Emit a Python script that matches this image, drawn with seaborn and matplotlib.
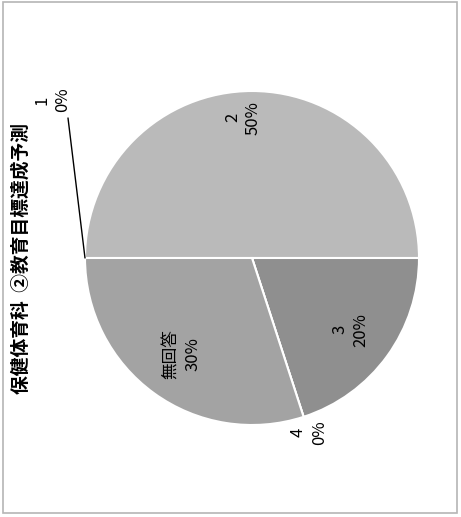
import numpy as np
import matplotlib
matplotlib.use("Agg")
import matplotlib.pyplot as plt
import seaborn as sns
from matplotlib.patches import Rectangle

sns.set_theme(style="white")
plt.rcParams['font.family'] = ['Noto Sans CJK JP', 'DejaVu Sans']

title = "保健体育科  ②教育目標達成予測"
categories = ["1", "2", "3", "4", "無回答"]
values = [0, 50, 20, 0, 30]
pct_labels = ["0%", "50%", "20%", "0%", "30%"]
colors = ["#c4c4c4", "#bababa", "#8f8f8f", "#9a9a9a", "#a3a3a3"]

W, H = 461, 517
fig = plt.figure(figsize=(W / 100, H / 100), dpi=100)
ax = fig.add_axes([0, 0, 1, 1])
cx, cy, R = 252, 259, 167

wedges, _ = ax.pie(values, colors=colors, startangle=180, counterclock=False,
                   center=(cx, cy), radius=R,
                   wedgeprops=dict(edgecolor="white", linewidth=1.5))
ax.set_xlim(0, W)
ax.set_ylim(0, H)
ax.set_aspect("auto")
ax.axis("off")

lab_kw = dict(rotation=90, ha="center", va="center", multialignment="center",
              fontsize=12, linespacing=1.3, color="black")

# label placement (fraction of radius) per slice
dist = {"2": 0.84, "3": 0.73, "無回答": 0.71, "4": 1.10}
for w, cat, pl in zip(wedges, categories, pct_labels):
    ang = np.deg2rad((w.theta1 + w.theta2) / 2)
    txt = f"{cat}\n{pl}"
    if cat == "1":
        ax.plot([85, 68], [cy, 399], color="black", lw=1.0)
        ax.text(52, 417, txt, **lab_kw)
        continue
    d = dist[cat] * R
    tx, ty = cx + d * np.cos(ang), cy + d * np.sin(ang)
    if cat == "2":
        tx -= 9
    ax.text(tx, ty, txt, **lab_kw)

ax.text(21, 259, title, rotation=90, ha="center", va="center",
        fontsize=13.5, fontweight="bold", color="black")

fig.patches.append(Rectangle((3 / W, 4 / H), (W - 7) / W, (H - 6) / H,
                             transform=fig.transFigure, fill=False,
                             edgecolor="#b5b5b5", linewidth=1.2))
fig.savefig("out.png", dpi=100)
